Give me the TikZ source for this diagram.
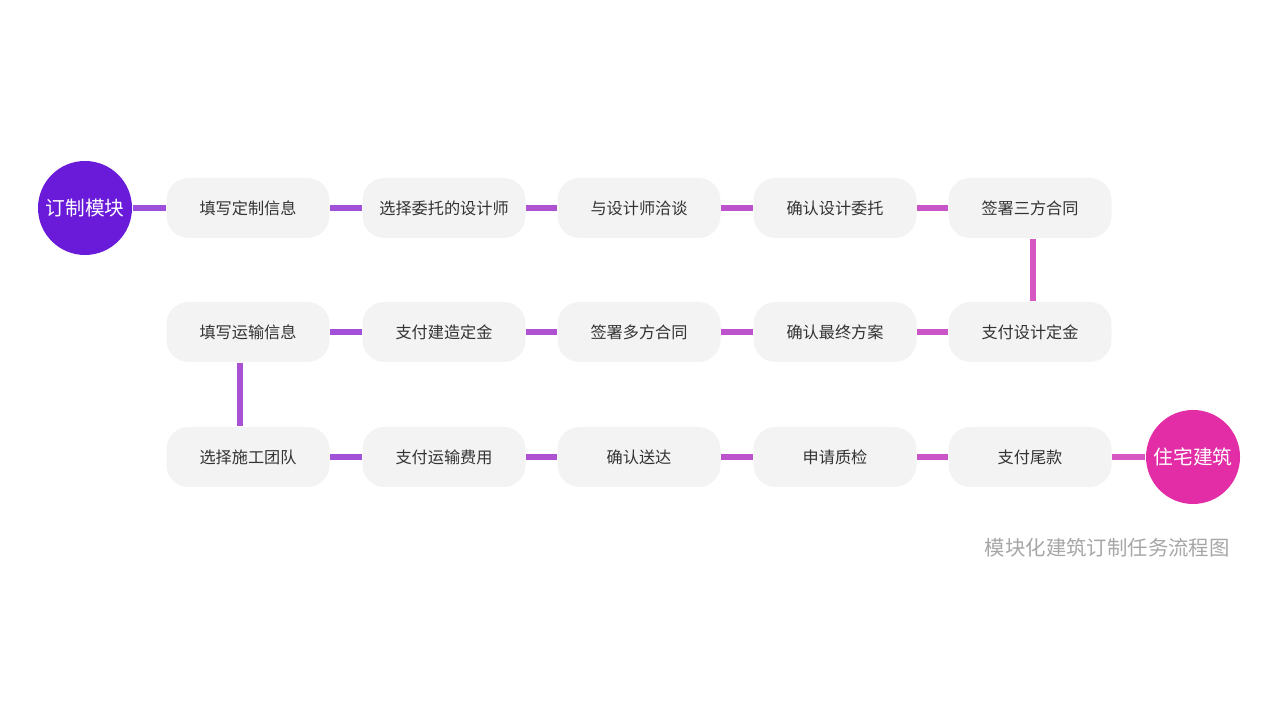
\documentclass[tikz,border=0pt]{standalone}
\usepackage{fontspec}
\setmainfont{Noto Sans CJK SC}
\usetikzlibrary{positioning}
\definecolor{startc}{HTML}{6A1BD9}
\definecolor{endc}{HTML}{E22DA6}
\definecolor{lineA}{HTML}{9B4FDB}
\definecolor{lineB}{HTML}{DD58BE}
\definecolor{boxfill}{HTML}{F3F3F3}
\definecolor{txt}{HTML}{333333}
\tikzset{
  stepbox/.style={rectangle, rounded corners=2.2mm, fill=boxfill, minimum width=1.63cm,
    minimum height=0.6cm, text=txt, font=\fontsize{4.6}{5}\selectfont},
  endpoint/.style={circle, minimum size=0.94cm, inner sep=0pt, text=white,
    font=\fontsize{5.6}{6}\selectfont},
  link/.style={line width=1.45pt}
}
\begin{document}
\begin{tikzpicture}
\useasboundingbox (0,0) rectangle (12.8,7.2);
% start and end
\node[endpoint, fill=startc] (start) at (0.85,5.12) {订制模块};
\node[endpoint, fill=endc] (finish) at (11.93,2.63) {住宅建筑};
% row 1
\node[stepbox] (a1) at (2.48,5.12) {填写定制信息};
\node[stepbox] (a2) at (4.44,5.12) {选择委托的设计师};
\node[stepbox] (a3) at (6.39,5.12) {与设计师洽谈};
\node[stepbox] (a4) at (8.35,5.12) {确认设计委托};
\node[stepbox] (a5) at (10.30,5.12) {签署三方合同};
% row 2
\node[stepbox] (b1) at (2.48,3.88) {填写运输信息};
\node[stepbox] (b2) at (4.44,3.88) {支付建造定金};
\node[stepbox] (b3) at (6.39,3.88) {签署多方合同};
\node[stepbox] (b4) at (8.35,3.88) {确认最终方案};
\node[stepbox] (b5) at (10.30,3.88) {支付设计定金};
% row 3
\node[stepbox] (c1) at (2.48,2.63) {选择施工团队};
\node[stepbox] (c2) at (4.44,2.63) {支付运输费用};
\node[stepbox] (c3) at (6.39,2.63) {确认送达};
\node[stepbox] (c4) at (8.35,2.63) {申请质检};
\node[stepbox] (c5) at (10.30,2.63) {支付尾款};
% connectors
\draw[link, lineA] (start) -- (a1);
\foreach \i/\j/\p in {1/2/10,2/3/30,3/4/50,4/5/70}{
  \draw[link, lineB!\p!lineA] (a\i) -- (a\j);
  \draw[link, lineB!\p!lineA] (b\i) -- (b\j);
  \draw[link, lineB!\p!lineA] (c\i) -- (c\j);
}
\draw[link, lineB!90!lineA] (c5) -- (finish);
\draw[link, lineB!90!lineA] ([xshift=0.3mm]a5.south) -- ([xshift=0.3mm]b5.north);
\draw[link, lineA!80!lineB] ([xshift=-0.8mm]b1.south) -- ([xshift=-0.8mm]c1.north);
% caption
\node[anchor=east, text=black!35, font=\fontsize{5.8}{6}\selectfont] (title) at (12.42,1.72) {模块化建筑订制任务流程图};
\end{tikzpicture}
\end{document}
